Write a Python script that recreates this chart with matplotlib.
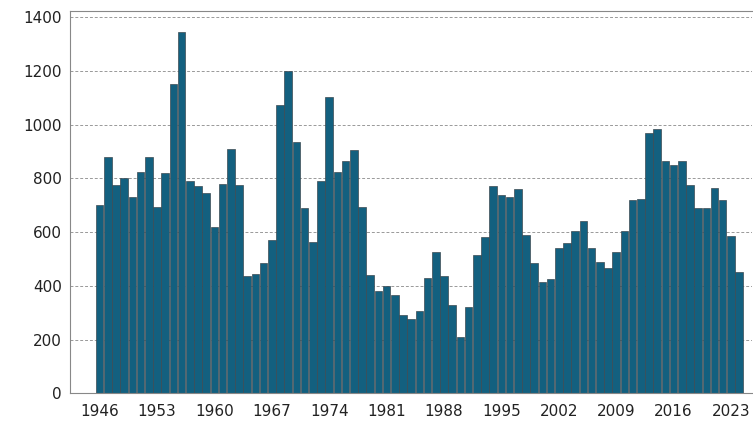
import numpy as np
import matplotlib.pyplot as plt

anos = np.arange(1946, 2025)
valores = [700, 880, 775, 800, 730, 825, 880, 695, 820, 1150, 1345,
           790, 770, 745, 620, 780, 910, 775, 435, 445, 485, 570, 1075,
           1200, 935, 690, 565, 790, 1105, 825, 865, 905, 695, 440, 380,
           400, 365, 290, 275, 305, 430, 525, 435, 330, 210, 320, 515,
           580, 770, 740, 730, 760, 590, 485, 415, 425, 540, 560, 605,
           640, 540, 490, 465, 525, 605, 720, 725, 970, 985, 865, 850,
           865, 775, 690, 690, 765, 720, 585, 450]
ticks = np.arange(1946, 2025, 7)

fig, ax = plt.subplots(figsize=(7.53, 4.26), dpi=100)
fig.subplots_adjust(left=0.093, right=0.999, top=0.975, bottom=0.077)
ax.bar(anos, valores, width=0.92, color='#13607f', edgecolor='#3d4a52', linewidth=0.5, zorder=2)
ax.set_xlim(1942.4, 2025.6)
ax.set_ylim(0, 1425)
ax.set_yticks(range(0, 1401, 200))
ax.set_xticks(ticks)
ax.grid(axis='y', linestyle=(0, (3, 2)), color='#999999', linewidth=0.7, zorder=0)
for s in ax.spines.values():
    s.set_color('#888888')
ax.spines['right'].set_visible(False)
ax.tick_params(axis='both', length=0, labelsize=11, colors='#222222', pad=6)
ax.tick_params(axis='x', pad=8)
plt.savefig('out.png')
